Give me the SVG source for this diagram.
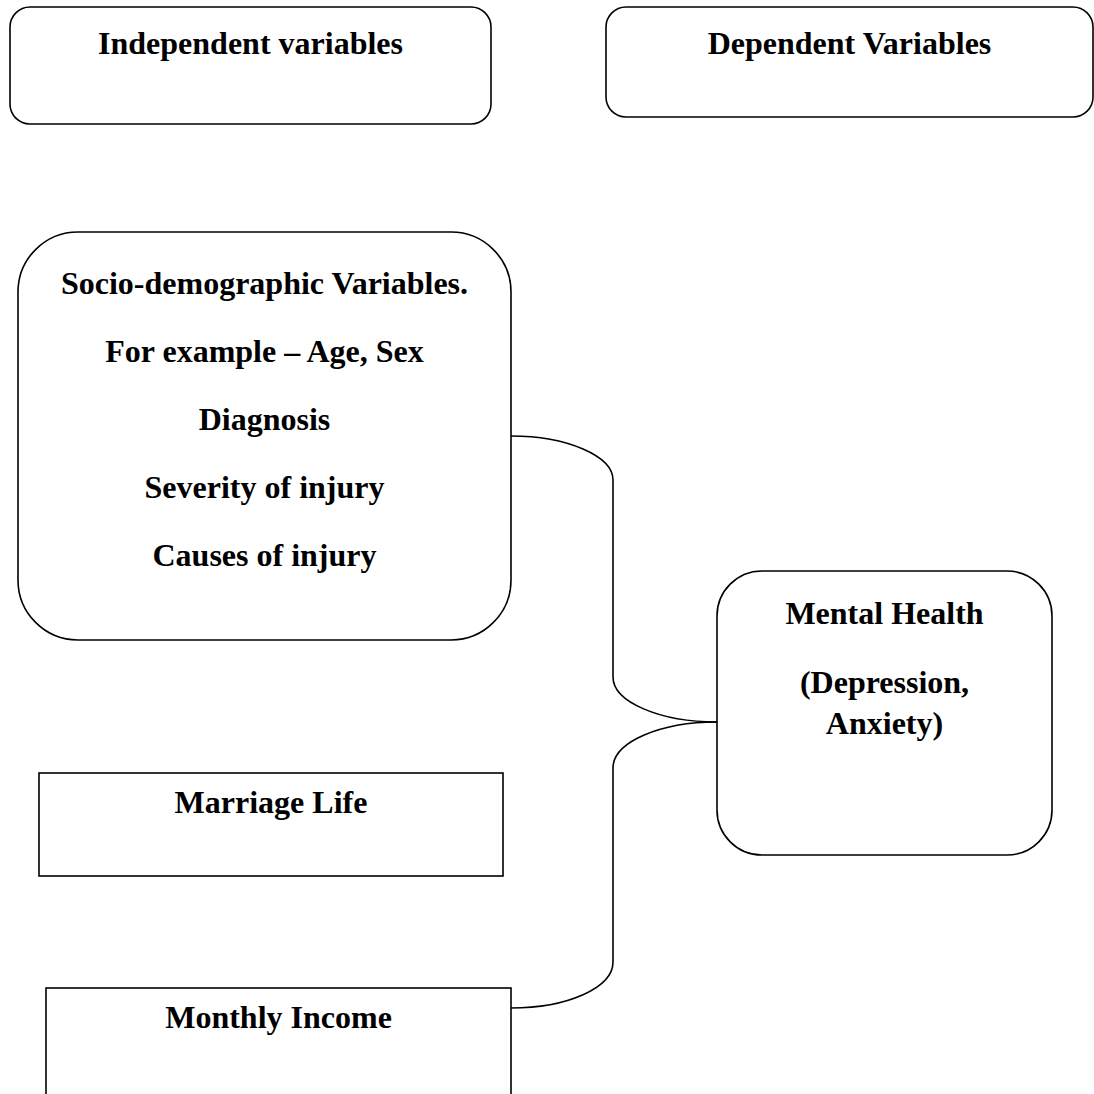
<svg xmlns="http://www.w3.org/2000/svg" width="1094" height="1094" viewBox="0 0 1094 1094">
<style>
.box{fill:#fff;stroke:#000;stroke-width:1.6}
.t{font-family:"Liberation Serif","Times New Roman",serif;font-weight:bold;font-size:32px;fill:#000;text-anchor:middle}
.c{fill:none;stroke:#000;stroke-width:1.6}
</style>
<rect width="1094" height="1094" fill="#fff"/>
<g id="connectors">
<path class="c" d="M511,436 C567,436 613,456 613,480 L613,677 C613,702 660,722 717,722"/>
<path class="c" d="M717,722 C660,722 613,742 613,768 L613,962 C613,988 567,1008 511,1008"/>
</g>
<g id="independent">
<rect class="box" x="10" y="7" width="481" height="117" rx="20" ry="20"/>
<text class="t" x="250.5" y="54">Independent variables</text>
</g>
<g id="dependent">
<rect class="box" x="606" y="7" width="487" height="110" rx="20" ry="20"/>
<text class="t" x="849.5" y="54">Dependent Variables</text>
</g>
<g id="socio">
<rect class="box" x="18" y="232" width="493" height="408" rx="60" ry="60"/>
<text class="t" x="264.5" y="294">Socio-demographic Variables.</text>
<text class="t" x="264.5" y="362">For example – Age, Sex</text>
<text class="t" x="264.5" y="430">Diagnosis</text>
<text class="t" x="264.5" y="498">Severity of injury</text>
<text class="t" x="264.5" y="566">Causes of injury</text>
</g>
<g id="mental">
<rect class="box" x="717" y="571" width="335" height="284" rx="45" ry="45"/>
<text class="t" x="884.5" y="624">Mental Health</text>
<text class="t" x="884.5" y="693">(Depression,</text>
<text class="t" x="884.5" y="734">Anxiety)</text>
</g>
<g id="marriage">
<rect class="box" x="39" y="773" width="464" height="103"/>
<text class="t" x="271" y="813">Marriage Life</text>
</g>
<g id="income">
<rect class="box" x="46" y="988" width="465" height="120"/>
<text class="t" x="278.5" y="1028">Monthly Income</text>
</g>
</svg>
